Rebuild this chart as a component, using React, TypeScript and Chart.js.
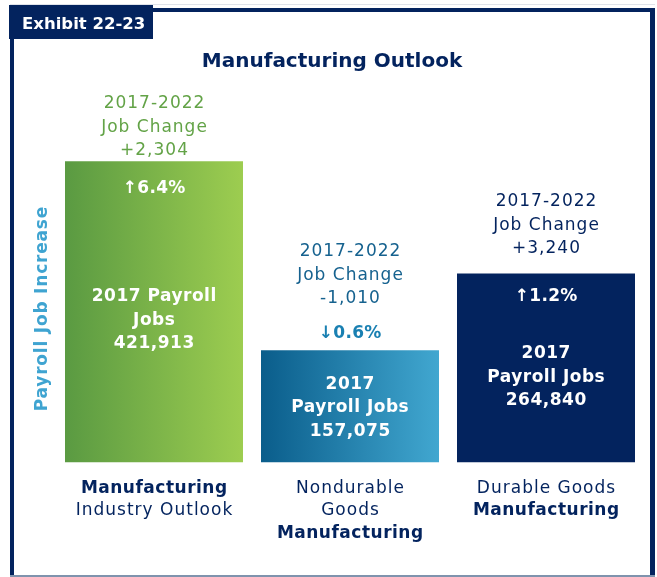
import React, { useEffect, useRef } from "react";
import { Chart, registerables } from "chart.js";

Chart.register(...registerables);

// ---------- data ----------
const categories = ["Manufacturing Industry Outlook", "Nondurable Goods Manufacturing", "Durable Goods Manufacturing"];
const payroll2017 = [421913, 157075, 264840];
const jobChange = [2304, -1010, 3240];
const pctChange = [6.4, -0.6, 1.2];
const categoryLines = [
  [["Manufacturing", true], ["Industry Outlook", false]],
  [["Nondurable", false], ["Goods", false], ["Manufacturing", true]],
  [["Durable Goods", false], ["Manufacturing", true]],
] as [string, boolean][][];
const chartTitle = "Manufacturing Outlook";
const exhibitLabel = "Exhibit 22-23";
const yAxisTitle = "Payroll Job Increase";
const changePeriod = "2017-2022";

// ---------- styles ----------
const NAVY = "#03235e";
const FONT = "'DejaVu Sans', sans-serif";
const DY = 1.5; // baseline nudge for middle-aligned text
const gradStops: [string, string][] = [
  ["#5a9a42", "#9dcd50"],
  ["#0a5d8b", "#41a7d0"],
  ["#03235e", "#03235e"],
];
const changeColors = ["#63a347", "#16628f", NAVY];
const pctInside = [true, false, true];
// offsets relative to bar top (px)
const changeLastOffset = [-12, -53, -26];
const pctOffset = [26, -18, 22];
const payrollCenterShift = [7, 0, 8];
const payrollLines = [
  (v: string) => ["2017 Payroll", "Jobs", v],
  (v: string) => ["2017", "Payroll Jobs", v],
  (v: string) => ["2017", "Payroll Jobs", v],
];

const fmt = (n: number) => Math.abs(n).toLocaleString("en-US");

function setFont(c: any, bold: boolean, size: number, spacing: number) {
  c.font = `${bold ? "bold " : ""}${size}px ${FONT}`;
  try {
    c.letterSpacing = `${spacing}px`;
  } catch (e) {}
}

function centered(c: any, t: string, x: number, y: number, spacing: number) {
  c.fillText(t, x + spacing / 2, y + DY);
}

const decorPlugin = {
  id: "decor",
  beforeDraw(chart: any) {
    const c = chart.ctx;
    c.save();
    c.fillStyle = "#ffffff";
    c.fillRect(0, 0, chart.width, chart.height);
    // frame
    c.fillStyle = "#dfe3ea";
    c.fillRect(10, 4, 645, 1);
    c.fillStyle = NAVY;
    c.fillRect(10, 8, 645, 4);
    c.fillRect(10, 8, 4, 569);
    c.fillRect(650, 8, 5, 569);
    c.fillStyle = "#7f93ad";
    c.fillRect(10, 575, 645, 2);
    // tab
    c.fillStyle = NAVY;
    c.fillRect(9, 5, 144, 34);
    c.fillStyle = "#ffffff";
    setFont(c, true, 16.5, 0);
    c.textBaseline = "middle";
    c.textAlign = "left";
    c.fillText(exhibitLabel, 22, 23 + DY);
    // title
    c.fillStyle = NAVY;
    setFont(c, true, 20, 0);
    c.textAlign = "center";
    c.fillText(chartTitle, 332, 60 + DY);
    // y title
    c.save();
    c.translate(42.5, 309);
    c.rotate(-Math.PI / 2);
    c.fillStyle = "#3fa4d1";
    setFont(c, true, 17, 0.8);
    c.fillText(yAxisTitle, 0.4, 0);
    c.restore();
    c.restore();
  },
  afterDatasetsDraw(chart: any) {
    const c = chart.ctx;
    const meta = chart.getDatasetMeta(0);
    const xs = chart.scales.x;
    c.save();
    c.textAlign = "center";
    c.textBaseline = "middle";
    const LH = 23.5;
    payroll2017.forEach((v, i) => {
      const bar = meta.data[i];
      const x = bar.x;
      const top = bar.y;
      const bottom = bar.base;
      // change annotation above
      const chLines = [changePeriod, "Job Change", (jobChange[i] >= 0 ? "+" : "-") + fmt(jobChange[i])];
      c.fillStyle = changeColors[i];
      setFont(c, false, 17, 1);
      chLines.forEach((t, k) => {
        centered(c, t, x, top + changeLastOffset[i] - (2 - k) * LH, 1);
      });
      // pct
      const arrow = pctChange[i] >= 0 ? "\u2191" : "\u2193";
      setFont(c, true, 17, 0.3);
      c.fillStyle = pctInside[i] ? "#ffffff" : "#1a80b2";
      centered(c, arrow + Math.abs(pctChange[i]).toFixed(1) + "%", x, top + pctOffset[i], 0.3);
      // payroll
      const pl = payrollLines[i](fmt(v));
      const mid = (top + bottom) / 2 + payrollCenterShift[i];
      c.fillStyle = "#ffffff";
      setFont(c, true, 17, 0.5);
      pl.forEach((t, k) => {
        centered(c, t, x, mid + (k - 1) * LH, 0.5);
      });
      // category labels
      const cx = xs.getPixelForValue(i);
      categoryLines[i].forEach(([t, b], k) => {
        c.fillStyle = NAVY;
        const sp = b ? 0.5 : 1;
        setFont(c, b, 17, sp);
        centered(c, t, cx, 487 + k * 22.5, sp);
      });
    });
    c.restore();
  },
};

export default function App() {
  const ref = useRef<HTMLCanvasElement | null>(null);
  useEffect(() => {
    if (!ref.current) return;
    const chart = new Chart(ref.current, {
      type: "bar",
      data: {
        labels: categories,
        datasets: [
          {
            data: payroll2017,
            backgroundColor: (ctx: any) => {
              const ch = ctx.chart;
              const i = ctx.dataIndex;
              if (!ch.chartArea || i === undefined) return gradStops[0][0];
              const x = ch.scales.x.getPixelForValue(i);
              const g = ch.ctx.createLinearGradient(x - 89, 0, x + 89, 0);
              g.addColorStop(0, gradStops[i][0]);
              g.addColorStop(1, gradStops[i][1]);
              return g;
            },
            borderWidth: 0,
            categoryPercentage: 1,
            barPercentage: 178 / 196,
          },
        ],
      },
      options: {
        responsive: true,
        maintainAspectRatio: false,
        animation: false,
        layout: { padding: { left: 56, right: 13, top: 105.5, bottom: 114.5 } },
        plugins: { legend: { display: false }, tooltip: { enabled: false }, title: { display: false } },
        scales: {
          x: { display: false },
          y: { display: false, min: 0, max: 500000 },
        },
      },
      plugins: [decorPlugin],
    });
    return () => chart.destroy();
  }, []);
  return (
    <div style={{ position: "absolute", left: 0, top: 0, width: 657, height: 577 }}>
      <canvas ref={ref} />
    </div>
  );
}
